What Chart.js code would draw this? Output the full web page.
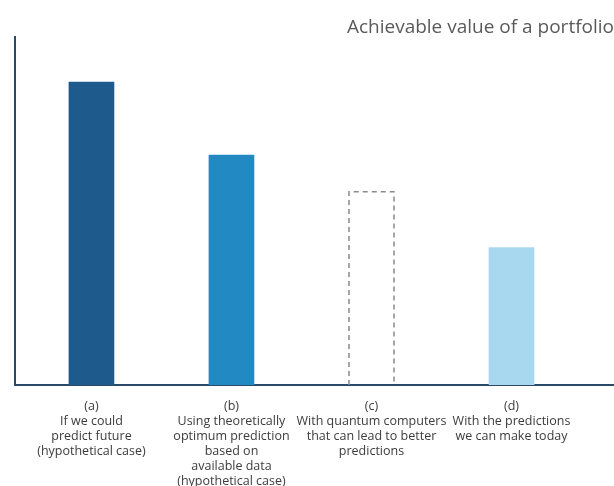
<!DOCTYPE html>
<html>
<head>
<meta charset="utf-8">
<script src="https://cdn.jsdelivr.net/npm/chart.js@4/dist/chart.umd.min.js"></script>
<style>
  body { margin: 0; background: #fff; overflow: hidden; }
  #wrap { width: 614px; height: 486px; }
</style>
</head>
<body>
<div id="wrap"><canvas id="valueChart" width="614" height="486"></canvas></div>
<script>
var categories = [
    ['(a)', 'If we could', 'predict future', '(hypothetical case)'],
    ['(b)', 'Using theoretically', 'optimum prediction', 'based on', 'available data', '(hypothetical case)'],
    ['(c)', 'With quantum computers', 'that can lead to better', 'predictions'],
    ['(d)', 'With the predictions', 'we can make today']
];
var portfolioValues = [87, 66, 55.5, 39.5];
var barColors = ['#1f5a8c', '#2389c2', 'rgba(0,0,0,0)', '#a7d8ef'];
var dashedBars = [2];   // outlined only, not filled

// dashed outline for the bars listed in dashedBars
var dashedOutline = {
    id: 'dashedOutline',
    afterDatasetsDraw: function(chart) {
        var meta = chart.getDatasetMeta(0);
        var ctx = chart.ctx;
        ctx.save();
        ctx.strokeStyle = '#8a8a8a';
        ctx.lineWidth = 1.5;
        ctx.setLineDash([5, 4]);
        dashedBars.forEach(function(i) {
            var bar = meta.data[i];
            var half = bar.width / 2;
            ctx.beginPath();
            ctx.moveTo(bar.x - half, bar.base);
            ctx.lineTo(bar.x - half, bar.y);
            ctx.lineTo(bar.x + half, bar.y);
            ctx.lineTo(bar.x + half, bar.base);
            ctx.stroke();
        });
        ctx.restore();
    }
};

var points = portfolioValues.map(function(v, i) {
    return { x: i, y: v };
});

new Chart(document.getElementById('valueChart'), {
    type: 'bar',
    data: {
        datasets: [{
            data: points,
            backgroundColor: barColors,
            barThickness: 45
        }]
    },
    plugins: [dashedOutline],
    options: {
        responsive: false,
        animation: false,
        layout: { padding: { top: 16, left: 15, right: 0, bottom: 0 } },
        plugins: {
            legend: { display: false },
            tooltip: { enabled: false },
            title: {
                display: true,
                text: 'Achievable value of a portfolio',
                align: 'end',
                color: '#5a5a5a',
                font: { family: 'Open Sans', size: 19, weight: 'normal' },
                padding: { top: 0, bottom: -2 }
            }
        },
        scales: {
            x: {
                type: 'linear',
                offset: false,
                min: -0.546,
                max: 3.732,
                grid: { display: false, drawTicks: false },
                border: { color: '#2b4a68', width: 2 },
                // the long (b) label runs past the bottom edge
                afterFit: function(scale) { scale.height = 101; },
                ticks: {
                    stepSize: 1,
                    includeBounds: false,
                    autoSkip: false,
                    maxRotation: 0,
                    padding: 14,
                    color: '#3c3c3c',
                    font: { family: 'Open Sans', size: 12.5, lineHeight: '15px' },
                    callback: function(value) {
                        return Number.isInteger(value) ? categories[value] : '';
                    }
                }
            },
            y: {
                min: 0,
                max: 100,
                grid: { display: false, drawTicks: false },
                border: { color: '#2b4a68', width: 2 },
                ticks: { display: false }
            }
        }
    }
});
</script>
</body>
</html>
